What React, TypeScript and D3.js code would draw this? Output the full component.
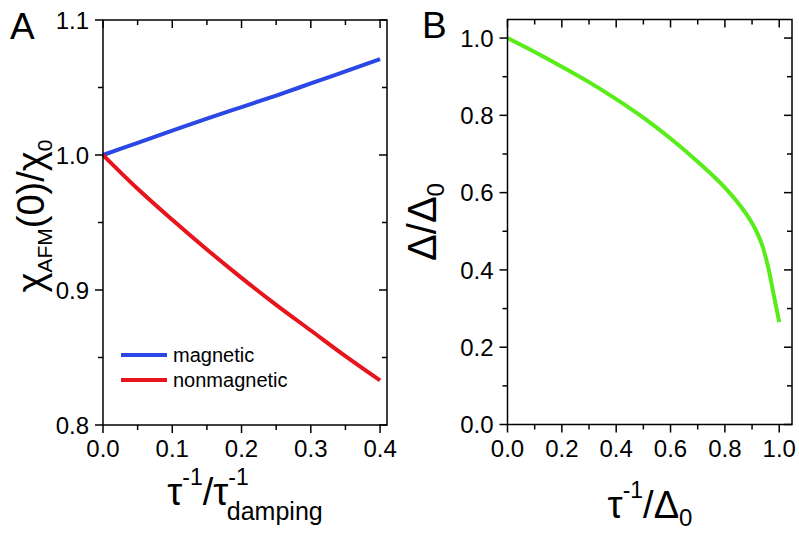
import React from "react";
import * as d3 from "d3";

// Panel A data
const tauA = [0, 0.05, 0.1, 0.15, 0.2, 0.25, 0.3, 0.35, 0.4];
const magnetic = [1.0, 1.009, 1.018, 1.027, 1.0355, 1.044, 1.053, 1.062, 1.071];
const nonmagnetic = [1.0, 0.975, 0.952, 0.93, 0.909, 0.889, 0.87, 0.851, 0.833];
const xTicksA = [0, 0.1, 0.2, 0.3, 0.4];
const yTicksA = [0.8, 0.9, 1.0, 1.1];
const xMinorA = [0.05, 0.15, 0.25, 0.35];
const yMinorA = [0.85, 0.95, 1.05];
const legendA = ["magnetic", "nonmagnetic"];

// Panel B data
const tauB = [0, 0.1, 0.2, 0.3, 0.4, 0.5, 0.6, 0.7, 0.8, 0.85, 0.9, 0.92, 0.94, 0.96, 0.98, 1.0];
const gap = [1.0, 0.964, 0.926, 0.886, 0.842, 0.794, 0.74, 0.68, 0.613, 0.572, 0.521, 0.494, 0.458, 0.405, 0.335, 0.265];
const xTicksB = [0, 0.2, 0.4, 0.6, 0.8, 1.0];
const yTicksB = [0, 0.2, 0.4, 0.6, 0.8, 1.0];
const xMinorB = [0.1, 0.3, 0.5, 0.7, 0.9];
const yMinorB = [0.1, 0.3, 0.5, 0.7, 0.9];

const FONT = "'Liberation Sans', Arial, sans-serif";
const BLUE = "#2b48e6";
const RED = "#e8141c";
const GREEN = "#58ec18";

function Frame({ x, y, xt, yt, xm, ym, fmtX, fmtY }: any) {
  const [x0, x1] = x.range();
  const [y0, y1] = y.range(); // y0 bottom, y1 top
  const MAJ = 8, MIN = 5;
  const els: any[] = [];
  xt.forEach((v: number, i: number) => {
    const px = x(v);
    els.push(<line key={"xb" + i} x1={px} x2={px} y1={y0} y2={y0 + MAJ} stroke="#000" strokeWidth={1.5} />);
    els.push(<line key={"xt" + i} x1={px} x2={px} y1={y1} y2={y1 + MAJ} stroke="#000" strokeWidth={1.5} />);
    els.push(<text key={"xl" + i} x={px} y={y0 + 32} textAnchor="middle" fontSize={24} fontFamily={FONT}>{fmtX(v)}</text>);
  });
  xm.forEach((v: number, i: number) => {
    const px = x(v);
    els.push(<line key={"xmb" + i} x1={px} x2={px} y1={y0} y2={y0 + MIN} stroke="#000" strokeWidth={1.5} />);
    els.push(<line key={"xmt" + i} x1={px} x2={px} y1={y1} y2={y1 + MIN} stroke="#000" strokeWidth={1.5} />);
  });
  yt.forEach((v: number, i: number) => {
    const py = y(v);
    els.push(<line key={"yl" + i} x1={x0} x2={x0 - MAJ} y1={py} y2={py} stroke="#000" strokeWidth={1.5} />);
    els.push(<line key={"yr" + i} x1={x1} x2={x1 - MAJ} y1={py} y2={py} stroke="#000" strokeWidth={1.5} />);
    els.push(<text key={"ylab" + i} x={x0 - 14} y={py} dy="0.36em" textAnchor="end" fontSize={24} fontFamily={FONT}>{fmtY(v)}</text>);
  });
  ym.forEach((v: number, i: number) => {
    const py = y(v);
    els.push(<line key={"yml" + i} x1={x0} x2={x0 - MIN} y1={py} y2={py} stroke="#000" strokeWidth={1.5} />);
    els.push(<line key={"ymr" + i} x1={x1} x2={x1 - MIN} y1={py} y2={py} stroke="#000" strokeWidth={1.5} />);
  });
  els.push(<rect key="frame" x={x0} y={y1} width={x1 - x0} height={y0 - y1} fill="none" stroke="#000" strokeWidth={1.5} />);
  return <g>{els}</g>;
}

export default function App() {
  const fmt1 = d3.format(".1f");
  const xA = d3.scaleLinear().domain([0, 0.41]).range([103, 387]);
  const yA = d3.scaleLinear().domain([0.8, 1.1]).range([425, 20]);
  const xB = d3.scaleLinear().domain([0, 1.047]).range([507.5, 792]);
  const yB = d3.scaleLinear().domain([0, 1.048]).range([424.5, 19.5]);

  const lineA = d3.line<number>().x((_, i) => xA(tauA[i])).y((d) => yA(d)).curve(d3.curveMonotoneX);
  const lineB = d3.line<number>().x((_, i) => xB(tauB[i])).y((d) => yB(d)).curve(d3.curveMonotoneX);

  return (
    <svg width={799} height={533} style={{ position: "absolute", left: 0, top: 0, background: "#fff" }}>
      <rect width={799} height={533} fill="#fff" />
      {/* Panel A */}
      <path d={lineA(magnetic) || ""} fill="none" stroke={BLUE} strokeWidth={4} />
      <path d={lineA(nonmagnetic) || ""} fill="none" stroke={RED} strokeWidth={4} />
      <Frame x={xA} y={yA} xt={xTicksA} yt={yTicksA} xm={xMinorA} ym={yMinorA} fmtX={fmt1} fmtY={fmt1} />
      {legendA.map((name, i) => (
        <g key={name}>
          <line x1={121} x2={167} y1={355 + i * 25} y2={355 + i * 25} stroke={i === 0 ? BLUE : RED} strokeWidth={4} />
          <text x={173} y={362 + i * 25} fontSize={20} fontFamily={FONT}>{name}</text>
        </g>
      ))}
      <text x={10} y={39} fontSize={37} fontFamily={FONT}>A</text>
      <text transform="translate(44,216) rotate(-90)" textAnchor="middle" fontSize={38} fontFamily={FONT}>
        χ<tspan fontSize={21} dy={8}>AFM</tspan><tspan dy={-8}>(0)/χ</tspan><tspan fontSize={21} dy={8}>0</tspan>
      </text>
      <text x={245} y={505} textAnchor="middle" fontSize={38} fontFamily={FONT}>
        τ<tspan fontSize={23} dy={-20}>-1</tspan><tspan dy={20}>/τ</tspan><tspan fontSize={23} dy={-20}>-1</tspan><tspan fontSize={25} dx={-22} dy={35}>damping</tspan>
      </text>

      {/* Panel B */}
      <path d={lineB(gap) || ""} fill="none" stroke={GREEN} strokeWidth={4} />
      <Frame x={xB} y={yB} xt={xTicksB} yt={yTicksB} xm={xMinorB} ym={yMinorB} fmtX={fmt1} fmtY={fmt1} />
      <text x={422} y={38} fontSize={37} fontFamily={FONT}>B</text>
      <text transform="translate(436,222) rotate(-90)" textAnchor="middle" fontSize={40} fontFamily={FONT}>
        Δ/Δ<tspan fontSize={24} dy={8}>0</tspan>
      </text>
      <text x={650} y={518} textAnchor="middle" fontSize={38} fontFamily={FONT}>
        τ<tspan fontSize={23} dy={-20}>-1</tspan><tspan dy={20}>/Δ</tspan><tspan fontSize={24} dy={8}>0</tspan>
      </text>
    </svg>
  );
}
